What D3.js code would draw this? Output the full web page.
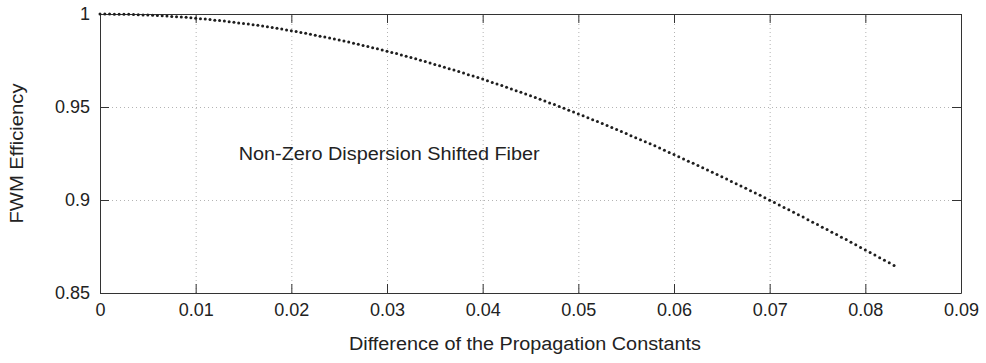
<!DOCTYPE html>
<html>
<head>
<meta charset="utf-8">
<script src="https://cdn.jsdelivr.net/npm/d3@7"></script>
<style>
	body { margin:0; background:#fff; }
	svg text { font-family: Arial, "Liberation Sans", Helvetica, sans-serif; fill:#222; }
</style>
</head>
<body>
<div id="ChartDiv"></div>
<script>
/* globals d3 */

// Tick values / labels
var XTicks = [0, 0.01, 0.02, 0.03, 0.04, 0.05, 0.06, 0.07, 0.08, 0.09];
var XTickLabels = ["0", "0.01", "0.02", "0.03", "0.04", "0.05", "0.06", "0.07", "0.08", "0.09"];
var YTicks = [0.85, 0.9, 0.95, 1];
var YTickLabels = ["0.85", "0.9", "0.95", "1"];

// Difference of propagation constants: samples every 0.0005 from 0
var DeltaBetaStep = 0.0005;
// FWM efficiency, one value per sample
var Efficiency = [
	1.0000, 1.0000, 1.0000, 0.9999, 0.9999, 0.9999, 0.9998, 0.9997, 0.9996, 0.9995,
	0.9994, 0.9993, 0.9992, 0.9990, 0.9989, 0.9987, 0.9985, 0.9984, 0.9982, 0.9980,
	0.9977, 0.9975, 0.9973, 0.9970, 0.9967, 0.9965, 0.9962, 0.9959, 0.9956, 0.9952,
	0.9949, 0.9946, 0.9942, 0.9939, 0.9935, 0.9931, 0.9927, 0.9923, 0.9919, 0.9914,
	0.9910, 0.9906, 0.9901, 0.9896, 0.9891, 0.9886, 0.9881, 0.9876, 0.9871, 0.9866,
	0.9860, 0.9855, 0.9849, 0.9843, 0.9837, 0.9831, 0.9825, 0.9819, 0.9813, 0.9806,
	0.9800, 0.9793, 0.9787, 0.9780, 0.9773, 0.9766, 0.9759, 0.9752, 0.9744, 0.9737,
	0.9729, 0.9722, 0.9714, 0.9706, 0.9699, 0.9691, 0.9683, 0.9674, 0.9666, 0.9658,
	0.9650, 0.9641, 0.9632, 0.9624, 0.9615, 0.9606, 0.9597, 0.9588, 0.9579, 0.9570,
	0.9560, 0.9551, 0.9542, 0.9532, 0.9522, 0.9513, 0.9503, 0.9493, 0.9483, 0.9473,
	0.9463, 0.9453, 0.9442, 0.9432, 0.9422, 0.9411, 0.9401, 0.9390, 0.9379, 0.9368,
	0.9357, 0.9346, 0.9335, 0.9324, 0.9313, 0.9302, 0.9291, 0.9279, 0.9268, 0.9256,
	0.9245, 0.9233, 0.9221, 0.9209, 0.9197, 0.9186, 0.9174, 0.9161, 0.9149, 0.9137,
	0.9125, 0.9113, 0.9100, 0.9088, 0.9075, 0.9063, 0.9050, 0.9037, 0.9025, 0.9012,
	0.8999, 0.8986, 0.8973, 0.8960, 0.8947, 0.8934, 0.8921, 0.8908, 0.8894, 0.8881,
	0.8868, 0.8854, 0.8841, 0.8827, 0.8814, 0.8800, 0.8787, 0.8773, 0.8759, 0.8745,
	0.8731, 0.8718, 0.8704, 0.8690, 0.8676, 0.8662, 0.8648
];

var Width = 986, Height = 363;
var Margin = {top:14, right:25, bottom:70, left:100};
var PlotW = Width - Margin.left - Margin.right;
var PlotH = Height - Margin.top - Margin.bottom;
var TickLen = 9;

var svg = d3.select("#ChartDiv").append("svg")
	.attr("width", Width).attr("height", Height);

var g = svg.append("g").attr("transform", "translate(" + Margin.left + "," + Margin.top + ")");

var x = d3.scaleLinear().domain([0, 0.09]).range([0, PlotW]);
var y = d3.scaleLinear().domain([0.85, 1]).range([PlotH, 0]);

//Dotted grid lines
g.append("g").attr("class", "grid")
	.attr("transform", "translate(0," + PlotH + ")")
	.call(d3.axisBottom(x).tickValues(XTicks.slice(1, -1)).tickSize(-PlotH).tickFormat(""));
g.append("g").attr("class", "grid")
	.call(d3.axisLeft(y).tickValues(YTicks.slice(1, -1)).tickSize(-PlotW).tickFormat(""));
g.selectAll(".grid .domain").remove();
g.selectAll(".grid line").attr("stroke", "#b4b4b4").attr("stroke-dasharray", "1,3");

//Axes with inward ticks on all four sides
function StyleAxis(sel) {
	sel.select(".domain").attr("stroke", "#333");
	sel.selectAll(".tick line").attr("stroke", "#333");
	sel.selectAll("text").attr("font-size", 18).attr("fill", "#222");
}

g.append("g")
	.attr("transform", "translate(0," + PlotH + ")")
	.call(d3.axisBottom(x).tickValues(XTicks).tickSizeInner(-TickLen).tickSizeOuter(0).tickPadding(10)
		.tickFormat(function(d, i) { return XTickLabels[i]; }))
	.call(StyleAxis);
g.append("g")
	.call(d3.axisTop(x).tickValues(XTicks).tickSizeInner(-TickLen).tickSizeOuter(0).tickFormat(""))
	.call(StyleAxis);
g.append("g")
	.call(d3.axisLeft(y).tickValues(YTicks).tickSizeInner(-TickLen).tickSizeOuter(0).tickPadding(10)
		.tickFormat(function(d, i) { return YTickLabels[i]; }))
	.call(StyleAxis);
g.append("g")
	.attr("transform", "translate(" + PlotW + ",0)")
	.call(d3.axisRight(y).tickValues(YTicks).tickSizeInner(-TickLen).tickSizeOuter(0).tickFormat(""))
	.call(StyleAxis);

//The dotted curve
g.append("g").selectAll("circle")
	.data(Efficiency)
	.enter().append("circle")
	.attr("cx", function(d, i) { return x(i * DeltaBetaStep); })
	.attr("cy", function(d) { return y(d); })
	.attr("r", 1.5)
	.attr("fill", "#1e1e1e");

//Labels
g.append("text")
	.attr("x", x(0.0145)).attr("y", y(0.9215))
	.attr("font-size", 18)
	.attr("textLength", 301).attr("lengthAdjust", "spacingAndGlyphs")
	.text("Non-Zero Dispersion Shifted Fiber");

svg.append("text")
	.attr("x", 525).attr("y", 350)
	.attr("text-anchor", "middle")
	.attr("font-size", 18)
	.attr("textLength", 352).attr("lengthAdjust", "spacingAndGlyphs")
	.text("Difference of the Propagation Constants");

svg.append("text")
	.attr("transform", "translate(23," + (Margin.top + PlotH / 2) + ") rotate(-90)")
	.attr("text-anchor", "middle")
	.attr("font-size", 18)
	.attr("textLength", 140).attr("lengthAdjust", "spacingAndGlyphs")
	.text("FWM Efficiency");
</script>
</body>
</html>
